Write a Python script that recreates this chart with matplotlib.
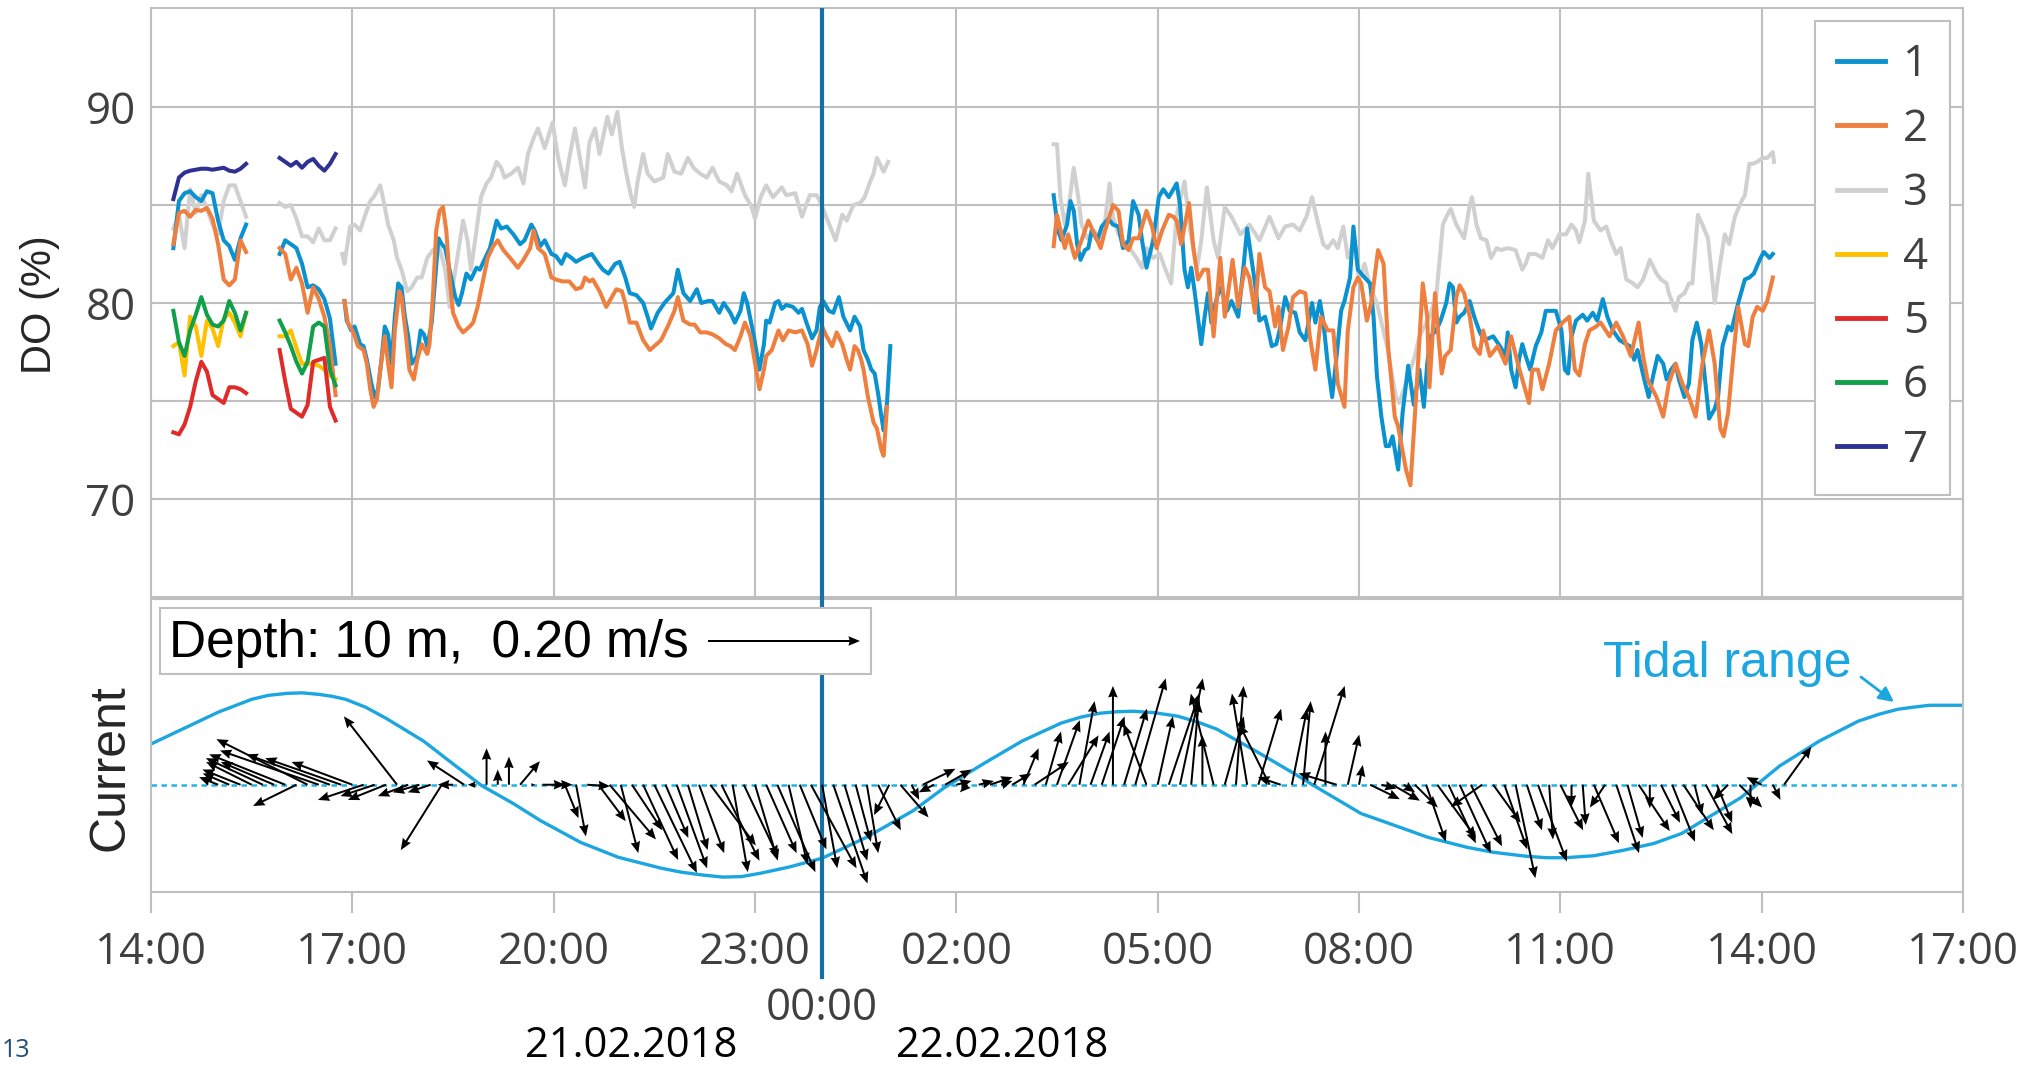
import numpy as np
import matplotlib.pyplot as plt
from matplotlib.patches import Rectangle
from matplotlib import transforms

plt.rcParams['font.family'] = ['Open Sans', 'DejaVu Sans']

W, H = 2028, 1067

# ---- DO data, time in minutes after 21.02.2018 14:00 ----
seg_a_min = [20, 25, 30, 35, 40, 45, 50, 55, 60, 65, 70, 75, 80, 85]
seg_b_min = [115, 120, 125, 130, 135, 140, 145, 150, 155, 160, 165]

do1_a = [82.8, 85.2, 85.6, 85.7, 85.4, 85.2, 85.7, 85.6, 84.2, 83.2, 82.9, 82.2, 83.3, 84.0]
do2_a = [83.0, 84.6, 84.7, 84.4, 84.75, 84.7, 84.85, 84.3, 83.0, 81.2, 80.9, 81.2, 83.2, 82.6]
do3_a = [83.8, 84.5, 82.8, 85.8, 84.6, 85.5, 84.8, 84.0, 83.5, 85.2, 86.0, 86.0, 85.2, 84.4]
do4_a = [77.8, 78.0, 76.3, 79.3, 78.8, 77.3, 79.1, 78.7, 77.8, 79.2, 79.5, 79.0, 78.3, 79.5]
do5_a = [73.4, 73.3, 73.8, 74.7, 76.0, 77.0, 76.5, 75.3, 75.1, 74.9, 75.7, 75.7, 75.6, 75.4]
do6_a = [79.6, 78.0, 77.3, 78.6, 79.4, 80.3, 79.4, 78.9, 78.8, 79.1, 80.1, 79.5, 78.6, 79.5]
do7_a = [85.3, 86.4, 86.65, 86.75, 86.8, 86.85, 86.85, 86.8, 86.85, 86.9, 86.75, 86.7, 86.85, 87.1]

do1_b = [82.5, 83.2, 83.0, 82.8, 82.0, 80.8, 80.9, 80.7, 80.2, 79.2, 76.9]
do2_b = [82.8, 82.5, 81.2, 81.8, 81.0, 79.5, 80.8, 80.2, 79.3, 77.8, 75.3]
do3_b = [85.1, 84.9, 85.0, 84.3, 83.4, 83.4, 83.1, 83.8, 83.2, 83.2, 83.8]
do4_b = [78.3, 78.3, 78.6, 77.7, 76.9, 76.9, 76.9, 76.8, 76.6, 76.3, 76.1]
do5_b = [77.6, 76.0, 74.6, 74.4, 74.2, 74.8, 77.0, 77.1, 77.2, 74.7, 74.0]
do6_b = [79.1, 78.5, 77.8, 77.0, 76.4, 77.0, 78.8, 79.0, 78.8, 76.6, 75.8]
do7_b = [87.4, 87.2, 87.0, 87.2, 86.9, 87.2, 87.35, 87.0, 86.75, 87.1, 87.6]

do1_c = [(173, 80.1), (175, 79.1), (179, 78.6), (182, 78.8), (187, 77.9), (190, 77.8), (193, 77.1),
         (197, 75.9), (200, 75.2), (203, 75.6), (206, 77.1), (209, 78.8), (212, 78.4), (215, 76.9),
         (218, 79.3), (221, 81.0), (224, 80.8), (227, 79.3), (230, 78.3), (233, 76.9), (238, 77.3),
         (241, 78.6), (244, 78.4), (247, 77.8), (251, 79.0), (254, 81.2), (257, 83.3), (260, 83.0),
         (263, 82.8), (267, 81.7), (272, 80.3), (275, 79.9), (278, 80.5), (282, 81.5), (286, 81.2),
         (291, 81.8), (294, 81.7), (298, 82.2), (303, 82.8), (309, 84.2), (313, 83.8), (318, 83.9),
         (324, 83.5), (330, 83.0), (334, 83.2), (340, 84.0), (343, 83.7), (348, 82.9), (352, 83.2),
         (358, 82.5), (362, 82.4), (367, 82.0), (371, 82.5), (376, 82.3), (380, 82.1), (386, 82.3),
         (394, 82.5), (400, 82.0), (404, 81.7), (409, 81.5), (415, 82.0), (419, 82.1), (424, 81.3),
         (428, 80.5), (434, 80.4), (440, 80.0), (444, 79.3), (447, 78.7), (453, 79.5), (459, 80.0),
         (467, 80.5), (471, 81.7), (476, 80.5), (482, 80.1), (488, 80.7), (492, 80.0), (498, 80.1),
         (502, 80.1), (508, 79.5), (512, 80.0), (518, 79.5), (522, 79.0), (527, 79.6), (530, 80.5),
         (533, 80.0), (539, 78.3), (544, 76.6), (548, 77.9), (550, 79.1), (553, 79.0), (558, 80.0),
         (561, 80.1), (564, 79.7), (568, 79.9), (574, 79.8), (579, 79.5), (582, 79.7), (586, 79.0),
         (591, 78.2), (595, 78.6), (598, 79.8), (601, 80.1), (606, 79.6), (610, 79.5), (615, 80.3),
         (619, 79.3), (625, 78.6), (629, 79.3), (634, 78.8), (637, 77.6), (641, 77.1), (644, 76.6),
         (647, 76.4), (650, 75.4), (653, 74.2), (655, 73.5), (658, 74.9), (661, 77.8)]
do2_c = [(173, 80.1), (176, 79.0), (181, 78.5), (185, 77.8), (190, 77.6), (193, 76.9), (196, 75.6),
         (199, 74.7), (202, 75.1), (205, 76.6), (209, 78.3), (212, 76.9), (215, 75.7), (218, 78.6),
         (222, 80.6), (224, 80.3), (228, 78.3), (231, 76.6), (235, 76.1), (238, 77.1), (242, 77.9),
         (247, 77.4), (249, 77.9), (252, 80.3), (255, 83.7), (258, 84.7), (261, 84.9), (264, 83.7),
         (267, 81.2), (270, 79.5), (275, 78.8), (279, 78.5), (285, 78.8), (288, 79.0), (292, 79.8),
         (297, 81.2), (301, 82.3), (306, 82.9), (310, 83.2), (315, 82.7), (321, 82.3), (328, 81.8),
         (333, 82.2), (339, 82.8), (342, 83.7), (346, 82.8), (352, 82.5), (358, 81.3), (362, 81.2),
         (368, 81.1), (374, 81.1), (380, 80.7), (385, 80.8), (388, 81.3), (392, 81.1), (395, 81.2),
         (401, 80.6), (407, 79.8), (412, 80.3), (416, 80.7), (421, 80.6), (424, 80.0), (428, 79.0),
         (434, 79.0), (440, 78.1), (446, 77.6), (452, 77.9), (456, 78.1), (462, 78.8), (468, 79.6),
         (471, 80.3), (476, 79.1), (482, 78.9), (486, 78.9), (491, 78.5), (497, 78.5), (502, 78.4),
         (508, 78.2), (514, 77.9), (518, 77.8), (522, 77.6), (527, 78.3), (531, 79.0), (536, 78.3),
         (541, 76.6), (544, 75.6), (548, 76.6), (550, 77.3), (555, 77.6), (561, 78.6), (565, 78.1),
         (570, 78.6), (576, 78.5), (582, 78.6), (587, 77.9), (591, 76.8), (595, 77.6), (600, 78.8),
         (604, 78.3), (609, 77.8), (613, 78.5), (618, 77.9), (622, 77.1), (625, 76.6), (629, 77.8),
         (632, 77.6), (635, 77.1), (637, 76.6), (641, 75.2), (646, 73.9), (649, 73.6), (653, 72.5),
         (655, 72.2), (658, 74.7)]
do3_c = [(171, 82.5), (173, 82.0), (178, 83.9), (182, 84.0), (187, 83.7), (191, 84.4), (196, 85.2),
         (199, 85.4), (205, 86.0), (209, 84.9), (212, 84.0), (217, 83.2), (220, 82.3), (224, 81.7),
         (229, 80.6), (233, 80.8), (238, 81.3), (242, 81.3), (247, 82.3), (252, 82.7), (258, 82.8),
         (263, 81.7), (267, 79.8), (273, 82.0), (279, 84.2), (283, 83.2), (286, 81.7), (291, 83.7),
         (295, 85.4), (300, 86.1), (304, 86.4), (309, 87.2), (313, 86.9), (316, 86.4), (322, 86.6),
         (328, 86.9), (333, 86.1), (337, 87.6), (342, 88.4), (346, 88.9), (352, 87.9), (359, 89.2),
         (364, 87.4), (370, 86.0), (374, 87.4), (379, 88.9), (388, 85.9), (392, 88.2), (397, 88.9),
         (401, 87.6), (408, 89.5), (412, 88.6), (417, 89.75), (421, 87.9), (425, 86.6), (429, 85.5),
         (432, 84.9), (435, 86.2), (440, 87.6), (444, 86.6), (450, 86.2), (458, 86.4), (462, 87.6),
         (468, 86.7), (474, 86.6), (480, 87.4), (485, 86.9), (491, 86.6), (497, 86.4), (502, 86.9),
         (508, 86.2), (515, 86.0), (519, 85.7), (524, 86.6), (531, 85.5), (537, 84.9), (540, 84.3),
         (545, 85.4), (550, 86.0), (556, 85.4), (564, 85.9), (568, 85.5), (576, 85.6), (582, 84.4),
         (589, 85.5), (595, 85.5), (598, 85.2), (603, 84.5), (612, 83.2), (618, 84.5), (622, 84.2),
         (628, 85.0), (634, 85.1), (638, 85.4), (643, 86.2), (646, 86.6), (649, 87.4), (655, 86.7),
         (659, 87.2)]

do1_d = [(807, 85.5), (811, 83.7), (814, 83.2), (819, 84.0), (822, 85.2), (825, 84.7), (828, 83.0),
         (831, 82.2), (835, 82.7), (838, 82.8), (841, 83.7), (846, 83.2), (850, 83.9), (856, 84.3),
         (860, 84.0), (865, 83.9), (869, 82.8), (874, 83.2), (878, 85.2), (883, 84.5), (886, 83.2),
         (890, 81.8), (896, 83.2), (901, 85.4), (905, 85.8), (910, 85.4), (917, 86.1), (920, 85.0),
         (924, 81.7), (927, 80.8), (930, 81.8), (933, 80.6), (939, 77.9), (942, 79.3), (945, 80.5),
         (948, 79.0), (953, 80.3), (957, 80.8), (962, 79.6), (966, 80.1), (972, 79.3), (977, 82.0),
         (980, 83.8), (984, 82.2), (987, 81.0), (991, 79.1), (996, 79.3), (999, 78.6), (1002, 77.8),
         (1006, 77.9), (1009, 78.6), (1014, 80.3), (1018, 79.6), (1023, 79.5), (1027, 78.5),
         (1032, 78.1), (1038, 80.0), (1041, 79.0), (1045, 80.1), (1048, 79.1), (1052, 76.9),
         (1056, 75.2), (1060, 77.3), (1064, 79.6), (1067, 80.1), (1072, 81.3), (1075, 83.9),
         (1079, 81.7), (1085, 81.3), (1090, 81.0), (1093, 79.3), (1096, 76.3), (1100, 74.2),
         (1104, 72.7), (1107, 72.7), (1110, 73.2), (1115, 71.5), (1119, 74.4), (1124, 76.8),
         (1129, 74.8), (1134, 76.6), (1138, 74.7), (1141, 76.9), (1144, 78.3), (1149, 78.6),
         (1153, 79.1), (1158, 80.0), (1161, 81.0), (1164, 80.8), (1167, 79.0), (1170, 79.3),
         (1174, 79.5), (1179, 80.1), (1183, 79.3), (1188, 78.5), (1192, 78.1), (1200, 78.3),
         (1206, 77.8), (1211, 77.3), (1213, 78.5), (1216, 76.6), (1220, 75.7), (1223, 77.1),
         (1226, 77.9), (1229, 77.3), (1233, 76.6), (1238, 77.8), (1243, 78.5), (1247, 79.6),
         (1256, 79.6), (1261, 78.6), (1264, 76.6), (1267, 76.4), (1270, 78.3), (1274, 79.1),
         (1280, 79.4), (1284, 79.1), (1289, 79.5), (1293, 79.1), (1298, 80.2), (1302, 79.3),
         (1307, 78.6), (1313, 78.1), (1322, 77.8), (1326, 77.1), (1329, 77.6), (1335, 76.1),
         (1339, 75.2), (1343, 76.3), (1347, 77.3), (1352, 76.9), (1355, 76.1), (1359, 76.6),
         (1363, 76.9), (1366, 76.1), (1371, 75.2), (1375, 75.9), (1378, 78.1), (1382, 79.0),
         (1386, 77.9), (1389, 76.3), (1393, 74.1), (1398, 74.6), (1401, 75.2), (1405, 77.8),
         (1410, 78.8), (1413, 78.6), (1419, 80.0), (1425, 81.2), (1429, 81.3), (1433, 81.5),
         (1439, 82.3), (1442, 82.6), (1447, 82.3), (1450, 82.5)]
do2_d = [(807, 82.9), (810, 84.5), (814, 83.5), (817, 82.8), (820, 83.5), (826, 82.3), (832, 83.2),
         (838, 84.2), (846, 83.2), (849, 82.8), (853, 83.7), (860, 85.0), (865, 84.7), (869, 83.0),
         (874, 82.7), (878, 83.3), (883, 83.3), (890, 84.7), (895, 83.9), (899, 82.8), (904, 83.7),
         (910, 84.5), (914, 84.4), (917, 84.2), (921, 83.0), (928, 85.1), (932, 82.8), (936, 81.2),
         (941, 81.7), (945, 81.7), (950, 78.3), (956, 82.3), (960, 79.3), (967, 82.2), (972, 79.8),
         (978, 81.8), (982, 81.3), (987, 79.5), (991, 82.5), (996, 80.8), (1000, 80.6), (1005, 78.8),
         (1008, 79.8), (1012, 77.6), (1017, 78.8), (1021, 80.3), (1027, 80.6), (1032, 80.5),
         (1036, 78.3), (1041, 76.6), (1046, 79.3), (1052, 78.6), (1057, 78.6), (1061, 75.9),
         (1067, 74.7), (1070, 78.6), (1075, 80.8), (1079, 81.3), (1082, 81.0), (1087, 79.1),
         (1091, 80.0), (1097, 82.7), (1102, 82.0), (1106, 77.8), (1112, 74.2), (1115, 73.7),
         (1122, 71.5), (1126, 70.7), (1131, 75.2), (1137, 81.0), (1141, 79.3), (1143, 75.7),
         (1146, 78.6), (1148, 80.5), (1151, 78.3), (1154, 76.4), (1157, 77.3), (1162, 77.6),
         (1167, 80.3), (1170, 80.9), (1174, 80.5), (1179, 79.3), (1183, 77.8), (1188, 77.4),
         (1191, 78.6), (1197, 77.3), (1204, 77.8), (1211, 76.9), (1216, 78.3), (1222, 76.9),
         (1228, 75.7), (1232, 74.9), (1235, 76.6), (1240, 76.6), (1244, 75.6), (1250, 76.9),
         (1256, 78.6), (1262, 79.0), (1268, 79.3), (1273, 76.6), (1277, 76.3), (1282, 77.9),
         (1286, 78.6), (1292, 78.8), (1296, 79.0), (1304, 78.3), (1310, 79.0), (1316, 78.3),
         (1323, 77.3), (1330, 79.0), (1334, 77.3), (1338, 76.1), (1346, 75.2), (1352, 74.2),
         (1357, 75.9), (1363, 76.9), (1369, 75.9), (1375, 75.2), (1381, 74.2), (1387, 76.9),
         (1393, 78.6), (1398, 76.9), (1403, 73.6), (1406, 73.2), (1410, 74.4), (1414, 76.9),
         (1419, 79.8), (1425, 77.9), (1428, 77.8), (1432, 79.3), (1436, 79.8), (1441, 79.6),
         (1445, 80.1), (1450, 81.3)]
do3_d = [(807, 88.1), (810, 88.1), (813, 85.4), (817, 84.0), (820, 84.7), (825, 86.9), (829, 85.4),
         (832, 84.0), (837, 83.3), (843, 83.7), (849, 83.2), (853, 84.2), (857, 86.1), (860, 84.4),
         (865, 83.5), (869, 83.2), (875, 82.8), (881, 82.3), (886, 81.8), (890, 82.8), (896, 82.3),
         (902, 82.5), (907, 81.7), (912, 81.0), (917, 84.5), (924, 86.2), (929, 83.7), (935, 81.7),
         (939, 83.2), (944, 85.9), (950, 83.2), (954, 82.3), (960, 84.9), (966, 84.4), (974, 83.5),
         (982, 84.0), (991, 83.2), (1000, 84.4), (1008, 83.3), (1014, 83.9), (1021, 84.0),
         (1027, 83.7), (1033, 84.4), (1038, 85.4), (1042, 84.4), (1048, 83.0), (1052, 82.8),
         (1057, 83.2), (1061, 82.8), (1066, 83.9), (1070, 82.3), (1076, 83.2), (1080, 81.2),
         (1085, 82.0), (1090, 80.8), (1096, 80.0), (1105, 77.8), (1113, 75.2), (1116, 74.9),
         (1122, 75.9), (1130, 77.3), (1134, 78.3), (1143, 79.3), (1149, 80.3), (1155, 84.0),
         (1159, 84.5), (1162, 84.8), (1167, 84.0), (1170, 83.7), (1174, 83.3), (1179, 85.0),
         (1181, 85.4), (1185, 84.0), (1189, 83.3), (1194, 83.2), (1198, 82.3), (1203, 82.8),
         (1207, 82.7), (1213, 82.8), (1220, 82.7), (1226, 81.7), (1229, 82.0), (1232, 82.5),
         (1238, 82.5), (1244, 82.3), (1249, 83.2), (1253, 82.8), (1259, 83.5), (1265, 83.5),
         (1270, 84.0), (1274, 83.7), (1277, 83.1), (1282, 84.2), (1285, 86.6), (1290, 84.2),
         (1296, 83.7), (1301, 83.9), (1305, 83.2), (1310, 82.5), (1314, 82.8), (1319, 81.2),
         (1325, 81.0), (1329, 80.8), (1334, 81.2), (1340, 82.2), (1346, 81.5), (1350, 81.2),
         (1355, 81.0), (1357, 80.5), (1363, 79.6), (1366, 80.3), (1371, 80.5), (1375, 81.0),
         (1378, 81.0), (1383, 84.5), (1387, 84.0), (1392, 83.3), (1398, 80.0), (1402, 81.7),
         (1407, 83.5), (1411, 83.0), (1416, 84.4), (1422, 85.2), (1425, 85.5), (1429, 87.1),
         (1432, 87.1), (1436, 87.2), (1441, 87.4), (1445, 87.4), (1450, 87.7), (1451, 87.2)]

# ---- tidal range (m, relative), hours after 14:00 ----
tide_h = [0.0, 0.5, 1.0, 1.5, 1.75, 2.03, 2.25, 2.5, 2.7, 2.9, 3.2, 3.5, 4.06, 4.5, 4.93, 5.4,
          5.8, 6.4, 6.96, 7.6, 7.9, 8.23, 8.52, 8.8, 9.09, 9.5, 10.0, 10.66, 11.36, 11.82, 12.4,
          12.98, 13.56, 13.85, 14.14, 14.4, 14.64, 14.95, 15.3, 15.6, 15.88, 16.46, 17.04, 17.33,
          18.03, 18.45, 19.03, 19.61, 20.0, 20.49, 20.8, 21.07, 21.5, 21.94, 22.4, 22.81, 23.69,
          24.27, 24.86, 25.44, 25.75, 26.03, 26.25, 26.5, 27.0]
tide_m = [0.41, 0.57, 0.73, 0.86, 0.90, 0.92, 0.925, 0.91, 0.89, 0.86, 0.78, 0.67, 0.44, 0.21,
          -0.01, -0.19, -0.36, -0.58, -0.73, -0.84, -0.88, -0.91, -0.93, -0.925, -0.89, -0.83,
          -0.74, -0.53, -0.26, -0.03, 0.21, 0.44, 0.62, 0.68, 0.72, 0.735, 0.74, 0.725, 0.69,
          0.63, 0.56, 0.34, 0.11, -0.01, -0.29, -0.39, -0.53, -0.63, -0.68, -0.72, -0.735,
          -0.735, -0.715, -0.66, -0.59, -0.49, -0.13, 0.19, 0.44, 0.64, 0.71, 0.76, 0.78, 0.80,
          0.80]

# ---- current at 10 m depth (m/s), every 10 min from 15:00 ----
cur_min = list(range(60, 1461, 10))
cur_u = [-0.025, -0.035, -0.05, -0.06, -0.075, -0.07,
         -0.10, -0.057, -0.12, -0.13, -0.11, -0.10,
         -0.08, -0.06, -0.045, -0.05, -0.07, -0.04,
         -0.035, -0.03, -0.054, -0.02, -0.049, -0.01,
         0.0, 0.0, 0.0, 0.026, 0.005, 0.03,
         0.025, 0.018, 0.013, 0.03, 0.036, 0.061,
         0.023, 0.04, 0.046, 0.056, 0.03, 0.04,
         0.026, 0.033, 0.06, 0.05, 0.02, 0.045,
         0.03, 0.04, 0.05, 0.025, 0.035, 0.06,
         0.02, 0.045, 0.03, 0.02, 0.015, 0.03,
         -0.02, 0.037, 0.01, 0.043, -0.02, 0.035,
         0.02, -0.01, 0.02, 0.03, 0.015, 0.025,
         0.02, 0.045, 0.02, 0.03, 0.04, 0.02,
         0.025, 0.03, 0.0, 0.03, 0.04, -0.03,
         0.02, 0.04, 0.03, 0.01, 0.0, -0.03,
         0.025, 0.01, -0.02, 0.03, -0.04, -0.03,
         0.02, 0.01, 0.04, 0.0, -0.05, 0.015,
         0.005, 0.039, 0.02, 0.036, 0.015, 0.03,
         0.026, 0.051, 0.036, 0.041, 0.041, -0.041,
         0.036, 0.03, 0.026, 0.02, 0.038, 0.005,
         0.03, 0.0, 0.004, 0.033, -0.02, 0.03,
         0.02, 0.041, 0.0, 0.025, 0.03, 0.04,
         0.01, 0.035, 0.02, -0.02, 0.03, 0.0,
         -0.02, 0.01, 0.036]
cur_v = [0.01, 0.015, 0.02, 0.03, 0.035, 0.03,
         0.04, -0.028, 0.06, 0.045, 0.04, 0.035,
         0.03, -0.02, -0.015, -0.02, 0.09, -0.015,
         -0.01, -0.01, -0.086, 0.0, 0.032, 0.0,
         0.048, 0.02, 0.037, 0.031, 0.0, 0.0,
         0.0, -0.044, -0.068, -0.002, -0.048, -0.072,
         -0.09, -0.06, -0.099, -0.116, -0.07, -0.11,
         -0.086, -0.09, -0.08, -0.10, -0.115, -0.095,
         -0.10, -0.09, -0.115, -0.105, -0.085, -0.11,
         -0.11, -0.13, -0.10, -0.075, -0.09, -0.06,
         -0.04, -0.043, -0.02, 0.021, -0.01, 0.02,
         0.005, -0.01, 0.005, 0.01, 0.005, 0.015,
         0.048, 0.03, 0.07, 0.085, 0.065, 0.11,
         0.07, 0.09, 0.13, 0.10, 0.14, 0.08,
         0.09, 0.12, 0.14, 0.11, 0.065, 0.12,
         0.09, 0.13, 0.12, 0.10, 0.08, 0.01,
         0.10, 0.11, 0.13, 0.07, 0.015, 0.066,
         0.026, -0.019, -0.005, -0.021, -0.01, -0.03,
         -0.075, -0.07, -0.077, -0.09, -0.081, -0.029,
         -0.05, -0.085, -0.123, -0.06, -0.101, -0.072,
         -0.06, -0.029, -0.053, -0.077, -0.03, -0.09,
         -0.07, -0.061, -0.031, -0.05, -0.075, -0.06,
         -0.04, -0.065, -0.05, -0.02, -0.03, -0.031,
         0.01, -0.02, 0.05]

tick_labels = ['14:00', '17:00', '20:00', '23:00', '02:00', '05:00', '08:00', '11:00', '14:00', '17:00']
series_labels = ['1', '2', '3', '4', '5', '6', '7']
colors = ['#0A91D0', '#EE7F3F', '#D0D0D0', '#FFC000', '#E02B2B', '#10A04A', '#2E3192']
grid_c = '#BFBFBF'
tide_c = '#1CA6E0'
mid_c = '#1670A5'
text_c = '#404040'


def fx(x):
    return x / W


def fy(y):
    return 1 - y / H


def join(*parts):
    ts, vs = [], []
    for i, (t, v) in enumerate(parts):
        if i:
            ts.append(np.nan)
            vs.append(np.nan)
        ts.extend(t)
        vs.extend(v)
    return np.array(ts, dtype=float) / 60, np.array(vs, dtype=float)


def pairs(p):
    t, v = zip(*p)
    return list(t), list(v)


s1 = join((seg_a_min, do1_a), (seg_b_min, do1_b), pairs(do1_c), pairs(do1_d))
s2 = join((seg_a_min, do2_a), (seg_b_min, do2_b), pairs(do2_c), pairs(do2_d))
s3 = join((seg_a_min, do3_a), (seg_b_min, do3_b), pairs(do3_c), pairs(do3_d))
s4 = join((seg_a_min, do4_a), (seg_b_min, do4_b))
s5 = join((seg_a_min, do5_a), (seg_b_min, do5_b))
s6 = join((seg_a_min, do6_a), (seg_b_min, do6_b))
s7 = join((seg_a_min, do7_a), (seg_b_min, do7_b))
series = [s1, s2, s3, s4, s5, s6, s7]

fig = plt.figure(figsize=(W / 100, H / 100), dpi=100)
ax1 = fig.add_axes([fx(151), fy(597), fx(1963) - fx(151), fy(8) - fy(597)])
ax2 = fig.add_axes([fx(151), fy(892), fx(1963) - fx(151), fy(599) - fy(892)])

# ---- upper panel: DO ----
handles = [None] * 7
for i in [2, 0, 1, 3, 5, 4, 6]:
    t, v = series[i]
    handles[i], = ax1.plot(t, v, color=colors[i], lw=2.9, solid_joinstyle='round', zorder=3)
ax1.axvline(10, color=mid_c, lw=3, zorder=5)

ax1.set_xlim(0, 27)
ax1.set_ylim(65, 95.05)
ax1.set_xticks(np.arange(0, 28, 3))
ax1.set_yticks([70, 80, 90])
ax1.set_yticks([75, 85], minor=True)
ax1.grid(True, which='both', color=grid_c, lw=1.5)
ax1.set_axisbelow(True)
ax1.tick_params(axis='x', length=0, labelbottom=False)
ax1.tick_params(axis='y', which='both', length=0, pad=11, labelsize=31.5, labelcolor=text_c)
for sp in ax1.spines.values():
    sp.set_color(grid_c)
    sp.set_linewidth(1.5)

leg = ax1.legend(handles, series_labels, loc='upper right', fontsize=31.5, frameon=True,
                 fancybox=False, edgecolor=grid_c, framealpha=1, handlelength=1.1,
                 handletextpad=0.4, labelspacing=0.45, borderpad=0.5, borderaxespad=0.3)
leg.get_frame().set_linewidth(1.5)
for h in leg.get_lines():
    h.set_linewidth(3.5)
for t in leg.get_texts():
    t.set_color(text_c)

# ---- lower panel: current and tide ----
ax2.axhline(0, color='#1EB4E6', lw=1.8, linestyle=(0, (2.2, 1.8)), zorder=1)
ax2.plot(tide_h, tide_m, color=tide_c, lw=2.4, solid_joinstyle='round', zorder=2)
q = ax2.quiver(np.array(cur_min) / 60, np.zeros(len(cur_min)), cur_u, cur_v,
               angles='uv', scale_units='inches', scale=0.2 / 1.52, pivot='tail',
               width=0.0011, headwidth=4.8, headlength=5.8, headaxislength=5.3,
               color='black', zorder=4)
ax2.set_xlim(0, 27)
ax2.set_ylim(-1.08, 1.87)
ax2.set_yticks([])
ax2.set_xticks(np.arange(0, 28, 3))
ax2.set_xticklabels(tick_labels)
ax2.tick_params(axis='x', length=15, width=1.5, color=grid_c, pad=13, labelsize=31.5,
                labelcolor=text_c)
for sp in ax2.spines.values():
    sp.set_color(grid_c)
    sp.set_linewidth(1.5)

blend = transforms.blended_transform_factory(ax2.transData, fig.transFigure)
ax2.plot([10, 10], [fy(599), fy(977)], color=mid_c, lw=3, transform=blend, clip_on=False,
         zorder=3.5)

box = Rectangle((fx(160), fy(674)), fx(871) - fx(160), fy(608) - fy(674),
                transform=fig.transFigure, facecolor='white', edgecolor=grid_c, lw=1.5,
                clip_on=False, zorder=5)
ax2.add_patch(box)
qk = ax2.quiverkey(q, fx(708), fy(641), 0.2, '', coordinates='figure', labelpos='W')
qk.set_zorder(6)
ax2.text(fx(689), fy(657), 'Depth: 10 m,  0.20 m/s', transform=fig.transFigure, ha='right',
         va='baseline', fontsize=37, family='Liberation Sans', color='black', zorder=6)

ax2.text(fx(1603), fy(677), 'Tidal range', transform=fig.transFigure, ha='left',
         va='baseline', fontsize=36, family='Liberation Sans', color=tide_c, zorder=6)
ax2.annotate('', xy=(fx(1894), fy(702)), xytext=(fx(1861), fy(677)),
             xycoords='figure fraction', textcoords='figure fraction',
             arrowprops=dict(arrowstyle='-|>', color=tide_c, lw=2, mutation_scale=22,
                             shrinkA=0, shrinkB=0), zorder=6)

# ---- labels ----
fig.text(fx(40), fy(305), 'DO (%)', rotation=90, ha='center', va='center',
         fontsize=30, family='Liberation Sans', color='#262626')
fig.text(fx(110), fy(768), 'Current', rotation=90, ha='center', va='center',
         fontsize=36, family='Liberation Sans', color='#262626')
fig.text(fx(822), fy(1020), '00:00', ha='center', va='baseline', fontsize=31.5, color=text_c)
fig.text(fx(631), fy(1057), '21.02.2018', ha='center', va='baseline', fontsize=30, color='black')
fig.text(fx(1002), fy(1057), '22.02.2018', ha='center', va='baseline', fontsize=30, color='black')
fig.text(fx(16), fy(1057), '13', ha='center', va='baseline', fontsize=18, color='#1F4E79')

fig.savefig('out.png', dpi=100)
